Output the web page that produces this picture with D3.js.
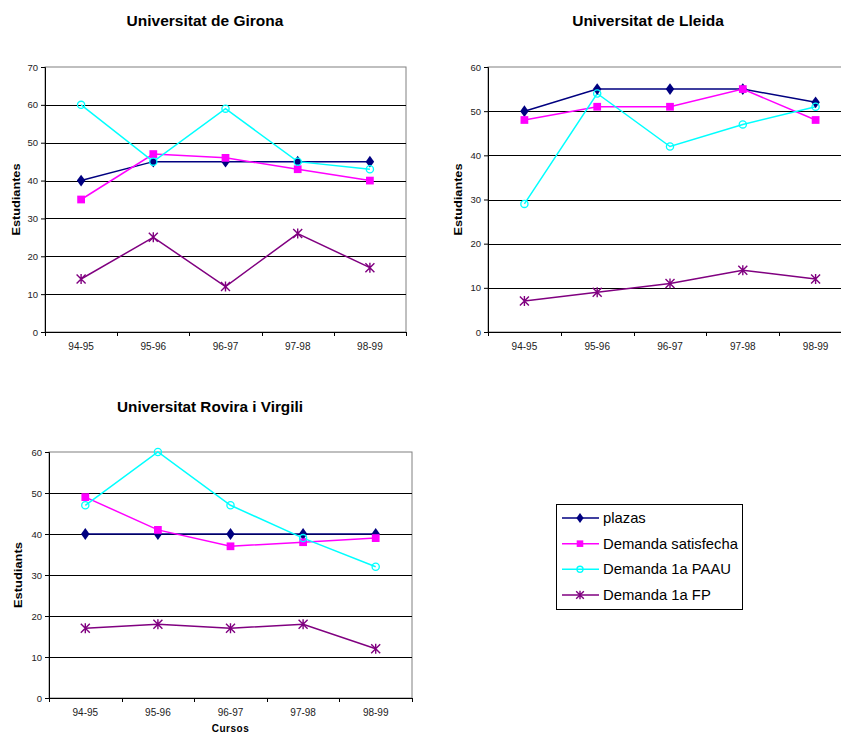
<!DOCTYPE html>
<html><head><meta charset="utf-8">
<script src="https://cdn.jsdelivr.net/npm/d3@7"></script>
<style>
body{margin:0;background:#fff;}
svg{display:block;font-family:Arial,"Liberation Sans",sans-serif;}
</style></head>
<body>
<svg id="c" width="841" height="735"></svg>
<script>
const categories = ["94-95","95-96","96-97","97-98","98-99"];
const seriesNames = ["plazas","Demanda satisfecha","Demanda 1a PAAU","Demanda 1a FP"];
const seriesColors = ["#000080","#FF00FF","#00FFFF","#800080"];

const gironaPlazas = [40,45,45,45,45];
const gironaSatisfecha = [35,47,46,43,40];
const gironaPAAU = [60,45,59,45,43];
const gironaFP = [14,25,12,26,17];

const lleidaPlazas = [50,55,55,55,52];
const lleidaSatisfecha = [48,51,51,55,48];
const lleidaPAAU = [29,54,42,47,51];
const lleidaFP = [7,9,11,14,12];

const rovPlazas = [40,40,40,40,40];
const rovSatisfecha = [49,41,37,38,39];
const rovPAAU = [47,60,47,39,32];
const rovFP = [17,18,17,18,12];

const gironaTicks = [0,10,20,30,40,50,60,70];
const lleidaTicks = [0,10,20,30,40,50,60];
const rovTicks = [0,10,20,30,40,50,60];

const svg = d3.select("#c");

const charts = [
  {title:"Universitat de Girona", titleSize:15.5, ylabel:"Estudiantes", ylabelLen:72, data:[gironaPlazas,gironaSatisfecha,gironaPAAU,gironaFP], ticks:gironaTicks,
   left:45, right:406, top:67, bottom:332, titleX:205, titleY:26, ylabX:20, xlabel:null},
  {title:"Universitat de Lleida", titleSize:15.5, ylabel:"Estudiantes", ylabelLen:72, data:[lleidaPlazas,lleidaSatisfecha,lleidaPAAU,lleidaFP], ticks:lleidaTicks,
   left:488, right:852, top:67, bottom:332, titleX:648, titleY:26, ylabX:462, xlabel:null},
  {title:"Universitat Rovira i Virgili", titleSize:15.3, ylabel:"Estudiants", ylabelLen:66, data:[rovPlazas,rovSatisfecha,rovPAAU,rovFP], ticks:rovTicks,
   left:49, right:412, top:452, bottom:698, titleX:210, titleY:412, ylabX:22, xlabel:"Cursos"}
];

function marker(g, i, cx, cy, s) {
  const c = seriesColors[i];
  if (i === 0) {
    g.append("path").attr("d", d3.symbol(d3.symbolDiamond, 40*s*s)()).attr("transform",`translate(${cx},${cy}) scale(1.25,1)`).attr("fill",c);
  } else if (i === 1) {
    g.append("path").attr("d", d3.symbol(d3.symbolSquare, 60*s*s)()).attr("transform",`translate(${cx},${cy})`).attr("fill",c);
  } else if (i === 2) {
    g.append("circle").attr("cx",cx).attr("cy",cy).attr("r",3.6*s).attr("fill","none").attr("stroke",c).attr("stroke-width",1.3);
  } else {
    const r = 4.5*s;
    g.append("path").attr("d",`M${-r},${-r}L${r},${r}M${-r},${r}L${r},${-r}M0,${-r-0.5}L0,${r+0.5}`)
      .attr("transform",`translate(${cx},${cy})`).attr("stroke",c).attr("stroke-width",1.4).attr("fill","none");
  }
}

charts.forEach(ch => {
  const x = d3.scaleBand().domain(categories).range([ch.left, ch.right]);
  const ymax = d3.max(ch.ticks);
  const y = d3.scaleLinear().domain([0, ymax]).range([ch.bottom, ch.top]);
  const g = svg.append("g");

  g.append("text").attr("x",ch.titleX).attr("y",ch.titleY).attr("text-anchor","middle")
    .attr("font-weight","bold").attr("font-size",ch.titleSize+"px").attr("fill","#000").text(ch.title);

  g.append("rect").attr("x",ch.left).attr("y",ch.top).attr("width",ch.right-ch.left).attr("height",ch.bottom-ch.top)
    .attr("fill","none").attr("stroke","#808080").attr("stroke-width",1);

  g.selectAll(".grid").data(ch.ticks.filter(t => t>0 && t<ymax)).enter().append("line")
    .attr("x1",ch.left).attr("x2",ch.right).attr("y1",d=>Math.round(y(d))+0.5).attr("y2",d=>Math.round(y(d))+0.5)
    .attr("stroke","#000").attr("stroke-width",1);

  const ya = g.append("g").attr("transform",`translate(${ch.left},0)`)
    .call(d3.axisLeft(y).tickValues(ch.ticks).tickSize(4).tickPadding(3).tickFormat(d3.format("d")));
  ya.select(".domain").attr("stroke","#000");
  ya.selectAll("text").attr("font-size","9.5px").attr("fill","#222").attr("font-family","Arial, 'Liberation Sans', sans-serif");

  const xa = g.append("g").attr("transform",`translate(0,${ch.bottom})`)
    .call(d3.axisBottom(x).tickSize(0).tickPadding(11));
  xa.select(".domain").attr("stroke","#000");
  xa.selectAll("text").attr("font-size","10px").attr("fill","#222").attr("font-family","Arial, 'Liberation Sans', sans-serif");
  const bounds = categories.map(c => x(c)).concat([x(categories[categories.length-1]) + x.bandwidth()]);
  g.selectAll(".bt").data(bounds).enter().append("line")
    .attr("x1",d=>Math.round(d)+0.5).attr("x2",d=>Math.round(d)+0.5).attr("y1",ch.bottom).attr("y2",ch.bottom+4)
    .attr("stroke","#000");

  g.append("text").attr("transform",`translate(${ch.ylabX},${(ch.top+ch.bottom)/2}) rotate(-90)`)
    .attr("text-anchor","middle").attr("font-weight","bold").attr("font-size","10.5px")
    .attr("textLength",ch.ylabelLen).attr("lengthAdjust","spacingAndGlyphs").text(ch.ylabel);

  if (ch.xlabel) {
    g.append("text").attr("x",(ch.left+ch.right)/2).attr("y",ch.bottom+34).attr("text-anchor","middle")
      .attr("font-weight","bold").attr("font-size","10px").attr("letter-spacing","0.5px").text(ch.xlabel);
  }

  const line = d3.line().x((d,i)=>x(categories[i])+x.bandwidth()/2).y(d=>y(d));
  ch.data.forEach((vals, si) => {
    g.append("path").datum(vals).attr("d",line).attr("fill","none")
      .attr("stroke",seriesColors[si]).attr("stroke-width",1.5);
  });
  ch.data.forEach((vals, si) => {
    vals.forEach((v,i) => marker(g, si, x(categories[i])+x.bandwidth()/2, y(v), 1));
  });
});

const lg = svg.append("g");
lg.append("rect").attr("x",556.5).attr("y",504.5).attr("width",186).attr("height",105)
  .attr("fill","#fff").attr("stroke","#000").attr("stroke-width",1);
const ly = d3.scalePoint().domain(seriesNames).range([518, 595]);
seriesNames.forEach((n, i) => {
  const yy = ly(n);
  lg.append("line").attr("x1",562).attr("x2",599).attr("y1",yy).attr("y2",yy)
    .attr("stroke",seriesColors[i]).attr("stroke-width",1.5);
  marker(lg, i, 580, yy, 0.85);
  lg.append("text").attr("x",603).attr("y",yy+5).attr("font-size","14.8px").attr("fill","#000").text(n);
});
</script>
</body></html>
